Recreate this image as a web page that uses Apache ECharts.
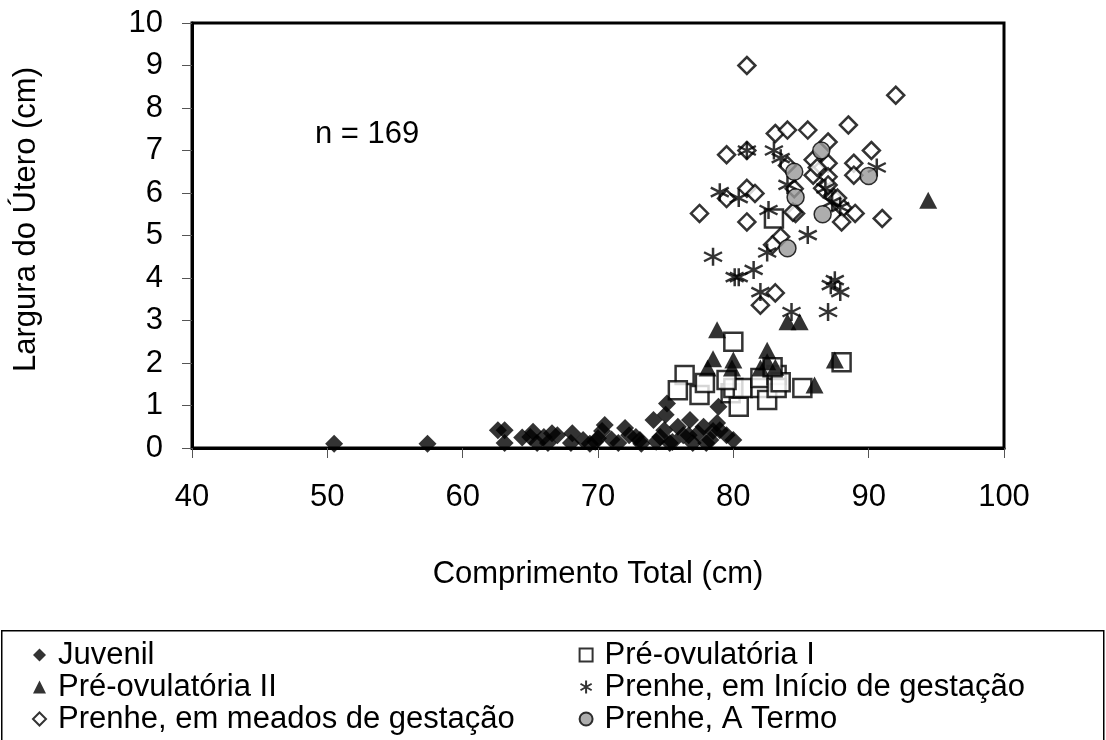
<!DOCTYPE html>
<html>
<head>
<meta charset="utf-8">
<script src="https://cdn.jsdelivr.net/npm/echarts@6/dist/echarts.min.js"></script>
<style>
html,body{margin:0;padding:0;background:#fff;}
#c{width:1106px;height:740px;}
</style>
</head>
<body>
<div id="c"></div>
<script>
// ---- data (Comprimento Total cm, Largura do Útero cm) ----
const seriesNames = ["Juvenil","Pré-ovulatória I","Pré-ovulatória II","Prenhe, em Início de gestação","Prenhe, em meados de gestação","Prenhe, A Termo"];

const juvenil = [[50.5,0.1],[57.4,0.1],[62.6,0.42],[63.1,0.42],[63.1,0.12],[64.4,0.25],[65.0,0.26],[65.2,0.38],[66.0,0.26],[66.6,0.35],[65.5,0.12],[67.0,0.3],[68.1,0.35],[68.0,0.12],[68.9,0.19],[69.4,0.1],[70.0,0.23],[70.5,0.54],[70.3,0.4],[71.0,0.2],[71.5,0.12],[72.0,0.47],[72.3,0.3],[72.8,0.26],[73.1,0.19],[73.2,0.1],[74.1,0.66],[74.6,0.26],[74.9,0.42],[75.1,1.05],[75.0,0.78],[75.3,0.12],[75.5,0.14],[75.9,0.5],[76.3,0.3],[76.7,0.3],[76.8,0.66],[77.0,0.12],[77.4,0.35],[77.8,0.5],[78.0,0.12],[78.3,0.19],[78.5,0.4],[78.8,0.59],[78.9,0.97],[79.0,0.42],[79.5,0.3],[80.0,0.19],[74.3,0.15],[66.3,0.12],[69.8,0.15]];

const preOvI = [[76.4,1.72],[75.9,1.36],[77.5,1.25],[77.9,1.53],[79.8,1.29],[80.0,2.5],[80.0,1.41],[80.4,0.97],[80.7,1.41],[82.0,1.41],[82.0,1.65],[82.5,1.13],[83.2,1.72],[83.2,1.41],[83.5,1.55],[82.9,1.9],[85.1,1.41],[88.0,2.02],[83.0,5.4],[79.5,1.6]];

const preOvII = [[78.8,2.78],[78.5,2.1],[78.1,1.88],[80.0,2.07],[79.9,1.88],[82.5,2.3],[82.5,2.03],[82.0,1.88],[83.1,1.9],[84.0,2.97],[84.9,2.97],[87.5,2.07],[86.0,1.48],[94.4,5.83]];

const inicio = [[79.0,6.02],[80.4,5.88],[84.0,6.19],[82.6,5.6],[85.5,5.01],[82.5,4.6],[78.5,4.5],[80.1,4.02],[80.4,4.02],[81.5,4.19],[82.0,3.67],[87.2,3.83],[87.9,3.67],[87.0,3.2],[84.3,3.2],[87.5,3.95],[81.0,7.0],[83.0,7.0],[83.5,6.82],[90.6,6.6],[87.9,5.67],[87.3,5.79],[86.8,6.11]];

const meados = [[81.0,9.0],[92.0,8.3],[83.1,7.4],[84.0,7.48],[85.5,7.48],[88.5,7.6],[79.5,6.9],[81.0,7.0],[87.0,7.2],[90.2,7.0],[85.9,6.78],[87.0,6.7],[88.9,6.7],[84.0,6.65],[77.5,5.52],[79.5,5.87],[81.0,6.11],[81.6,5.99],[81.0,5.32],[83.5,4.97],[82.9,4.78],[83.1,3.65],[82.0,3.36],[84.6,5.52],[85.9,6.42],[87.0,6.38],[88.9,6.42],[86.6,6.11],[87.4,5.9],[88.1,5.65],[89.0,5.52],[88.0,5.32],[91.0,5.4],[84.4,5.55],[87.0,6.19],[87.7,5.88],[84.5,6.1],[86.2,6.6]];

const termo = [[84.5,6.5],[84.6,5.9],[86.6,5.5],[84.0,4.7],[90.0,6.4],[86.5,7.0]];

const annotation = "n = 169";
const xTitle = "Comprimento Total (cm)";
const yTitle = "Largura do Útero (cm)";

const FONT = "Liberation Sans, Arial, sans-serif";
const FS = 31;
const asteriskPath = "path://M5,0L5,10M0.7,2.5L9.3,7.5M0.7,7.5L9.3,2.5";

const chart = echarts.init(document.getElementById('c'), null, {renderer:'canvas'});
const legendText = {fontSize:FS, color:'#000', fontFamily:FONT, lineHeight:32, padding:[0,0,0,7]};
chart.setOption({
  animation:false,
  backgroundColor:'#fff',
  textStyle:{fontFamily:FONT},
  grid:{left:192, top:23, width:812, height:425, show:true, borderColor:'#000', borderWidth:3, backgroundColor:'#fff'},
  xAxis:{
    type:'value', min:40, max:100, interval:10,
    name:xTitle, nameLocation:'middle', nameGap:111,
    nameTextStyle:{fontSize:FS, color:'#000', fontFamily:FONT},
    axisLine:{show:true, onZero:false, lineStyle:{color:'#000', width:3}},
    axisTick:{show:true, length:10, lineStyle:{color:'#555', width:1}},
    axisLabel:{fontSize:FS, color:'#000', margin:34, fontFamily:FONT},
    splitLine:{show:false}
  },
  yAxis:{
    type:'value', min:0, max:10, interval:1,
    name:yTitle, nameLocation:'middle', nameGap:150,
    nameTextStyle:{fontSize:FS, color:'#000', fontFamily:FONT, padding:[0,0,0,32]},
    axisLine:{show:true, onZero:false, lineStyle:{color:'#000', width:3}},
    axisTick:{show:true, length:10, lineStyle:{color:'#555', width:1}},
    axisLabel:{fontSize:FS, color:'#000', margin:29, fontFamily:FONT},
    splitLine:{show:false}
  },
  legend:[
    {left:32, top:639, height:140, padding:0, orient:'vertical', itemGap:0, itemWidth:13, itemHeight:13,
     data:[seriesNames[0], seriesNames[2], seriesNames[4]], textStyle:legendText},
    {left:578, top:639, height:140, padding:0, orient:'vertical', itemGap:0, itemWidth:13, itemHeight:13,
     data:[seriesNames[1], seriesNames[3], seriesNames[5]], textStyle:legendText}
  ],
  graphic:[
    {type:'rect', left:1, top:630, z:-1, shape:{width:1102, height:130}, style:{fill:'#fff', stroke:'#000', lineWidth:1.5}},
    {type:'text', left:315, top:119, style:{text:annotation, fontSize:FS, fill:'#000', fontFamily:FONT}}
  ],
  series:[
    {name:seriesNames[1], type:'scatter', data:preOvI, symbol:'rect', symbolSize:18, z:2,
     itemStyle:{color:'#fff', borderColor:'#000', borderWidth:2.5}},
    {name:seriesNames[0], type:'scatter', data:juvenil, symbol:'diamond', symbolSize:18, z:3,
     itemStyle:{color:'#000', borderColor:'#000', borderWidth:0}},
    {name:seriesNames[2], type:'scatter', data:preOvII, symbol:'triangle', symbolSize:[18,17], z:3,
     itemStyle:{color:'#000', borderColor:'#000', borderWidth:0}},
    {name:seriesNames[4], type:'scatter', data:meados, symbol:'diamond', symbolSize:17, z:3,
     itemStyle:{color:'#fff', borderColor:'#000', borderWidth:2.5}},
    {name:seriesNames[3], type:'scatter', data:inicio, symbol:asteriskPath, symbolSize:18, z:4,
     itemStyle:{color:'none', borderColor:'#000', borderWidth:2.5}},
    {name:seriesNames[5], type:'scatter', data:termo, symbol:'circle', symbolSize:17, z:5,
     itemStyle:{color:'#999', borderColor:'#000', borderWidth:1.5}}
  ]
});
</script>
</body>
</html>
